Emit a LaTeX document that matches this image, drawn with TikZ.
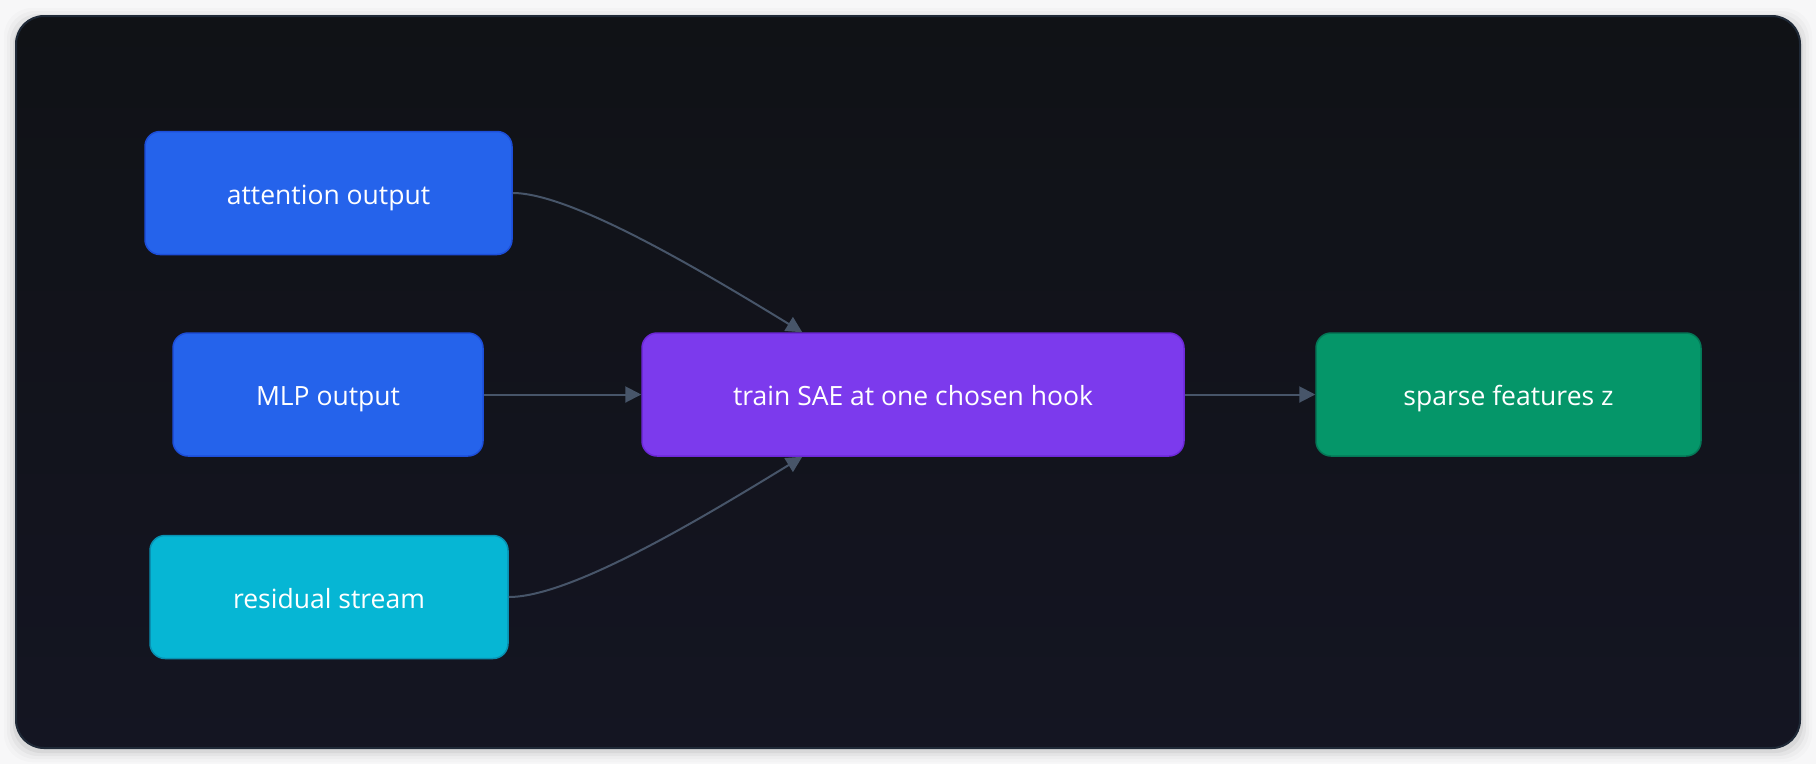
\documentclass[tikz,border=0pt]{standalone}
\usepackage{fontspec}
\setmainfont{Open Sans}
\usepackage{tikz}
\usetikzlibrary{positioning,calc,arrows.meta}

\definecolor{pagebg}{HTML}{F7F7F8}
\definecolor{paneltop}{HTML}{101216}
\definecolor{panelbot}{HTML}{141522}
\definecolor{panelline}{HTML}{1F2937}
\definecolor{linkcol}{HTML}{475569}
\definecolor{blueA}{HTML}{2563EB}
\definecolor{blueB}{HTML}{1D4ED8}
\definecolor{cyanA}{HTML}{06B6D4}
\definecolor{cyanB}{HTML}{0891B2}
\definecolor{purpA}{HTML}{7C3AED}
\definecolor{purpB}{HTML}{6D28D9}
\definecolor{greenA}{HTML}{059669}
\definecolor{greenB}{HTML}{047857}

\tikzset{
  box/.style={draw, line width=1.5pt, rounded corners=15pt, inner sep=0pt,
    minimum height=123pt, text height=26pt, text depth=4pt,
    text=white, font=\fontsize{26.5}{32}\selectfont},
  hookbox/.style={box, fill=blueA, draw=blueB},
  resbox/.style={box, fill=cyanA, draw=cyanB},
  saebox/.style={box, fill=purpA, draw=purpB},
  featbox/.style={box, fill=greenA, draw=greenB},
  link/.style={draw=linkcol, line width=2pt,
    -{Triangle[length=16pt,width=16pt]}}
}

\begin{document}
\begin{tikzpicture}[x=1pt,y=-1pt]
	\useasboundingbox (0,0) rectangle (1816,764);
	\fill[pagebg] (0,0) rectangle (1816,764);
	% soft shadow round the panel
	\foreach \s/\o in {12/0.015,9/0.025,6/0.035,3/0.05}
	{ \fill[black,opacity=\o,rounded corners=28pt] (16-\s,16-\s+4) rectangle (1800+\s,748+\s+2);
	}
	\shade[top color=paneltop,bottom color=panelbot,rounded corners=28pt]
		(16,16) rectangle (1800,748);
	\draw[panelline,line width=2pt,rounded corners=28pt] (16,16) rectangle (1800,748);

	% hook points
	\node[hookbox, minimum width=367pt] (att) at (328.5,193) {attention output};
	\node[hookbox, minimum width=310pt] (mlp) at (328,394.5) {MLP output};
	\node[resbox, minimum width=358pt] (res) at (329,597) {residual stream};
	% SAE and features
	\node[saebox, minimum width=542pt] (sae) at (913,394.5) {train SAE at one chosen hook};
	\node[featbox, minimum width=385pt] (feat) at (1508.5,394.5) {sparse features z};

	% connectors
	\draw[link] (att.east) .. controls +(58,0) and +(-103,-63) .. ($(sae.north west)+(161,0)$);
	\draw[link] (mlp.east) -- (sae.west);
	\draw[link] (res.east) .. controls +(62,0) and +(-103,63) .. ($(sae.south west)+(161,0)$);
	\draw[link] (sae.east) -- (feat.west);
\end{tikzpicture}
\end{document}
